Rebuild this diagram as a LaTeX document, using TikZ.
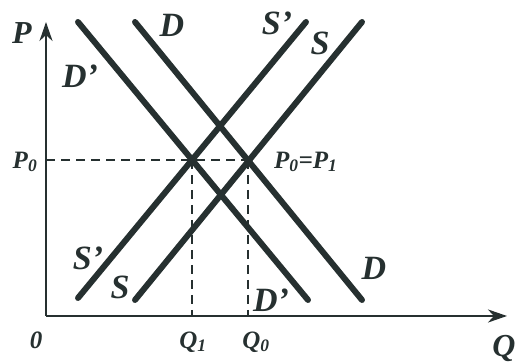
\documentclass[tikz,border=0pt]{standalone}
\usepackage{fontspec}
\setmainfont{Liberation Serif}
\usetikzlibrary{arrows.meta}
\definecolor{ink}{HTML}{263030}

\begin{document}
\begin{tikzpicture}[x=1pt, y=1pt, >={Stealth[length=19pt, width=13pt, inset=6pt]},
  curve/.style={ink, line width=6pt, line cap=round},
  axis/.style={ink, line width=2.6pt},
  guide/.style={ink, line width=1.6pt, dash pattern=on 9pt off 6pt},
  lbl/.style={ink, font=\fontsize{34}{34}\selectfont\bfseries\itshape, inner sep=0pt},
  sublbl/.style={ink, font=\fontsize{25}{25}\selectfont\bfseries\itshape, inner sep=0pt}]
\useasboundingbox (0,0) rectangle (519,363);
% axes
\coordinate (O) at (46,47);
\coordinate (Ptop) at (46,341);
\coordinate (Qend) at (507,47);
\draw[axis, ->] (O) -- (Ptop);
\draw[axis, ->] (O) -- (Qend);
% equilibrium points
\coordinate (A) at (192,203);
\coordinate (B) at (248,203);
\draw[guide] (A -| O) -- (B);
\draw[guide] (A) -- (A |- O);
\draw[guide] (B) -- (B |- O);
% demand and supply curves
\draw[curve] (78,341) -- (308,63);   % D'
\draw[curve] (135,341) -- (362,63);  % D
\draw[curve] (78,65) -- (306,341);   % S'
\draw[curve] (135,63) -- (362,341);  % S
% axis labels
\node[lbl, font=\fontsize{32}{32}\selectfont\bfseries\itshape] (P) at (22,330) {P};
\node[lbl, font=\fontsize{32}{32}\selectfont\bfseries\itshape] (Q) at (504,14) {Q};
\node[sublbl] (zero) at (36,23) {0};
\node[sublbl] (P0) at (25,201) {P\textsubscript{0}};
\node[sublbl, anchor=west] (P0P1) at (274,201) {P\textsubscript{0}=P\textsubscript{1}};
\node[sublbl] (Q1) at (193,21) {Q\textsubscript{1}};
\node[sublbl] (Q0) at (256,21) {Q\textsubscript{0}};
% curve labels
\node[lbl] (Dp1) at (80,287) {D'};
\node[lbl] (D1) at (172,338) {D};
\node[lbl] (Sp1) at (277,340) {S'};
\node[lbl] (S1) at (320,320) {S};
\node[lbl] (Sp2) at (88,105) {S'};
\node[lbl] (S2) at (120,76) {S};
\node[lbl] (Dp2) at (271,63) {D'};
\node[lbl] (D2) at (374,95) {D};
\end{tikzpicture}
\end{document}
